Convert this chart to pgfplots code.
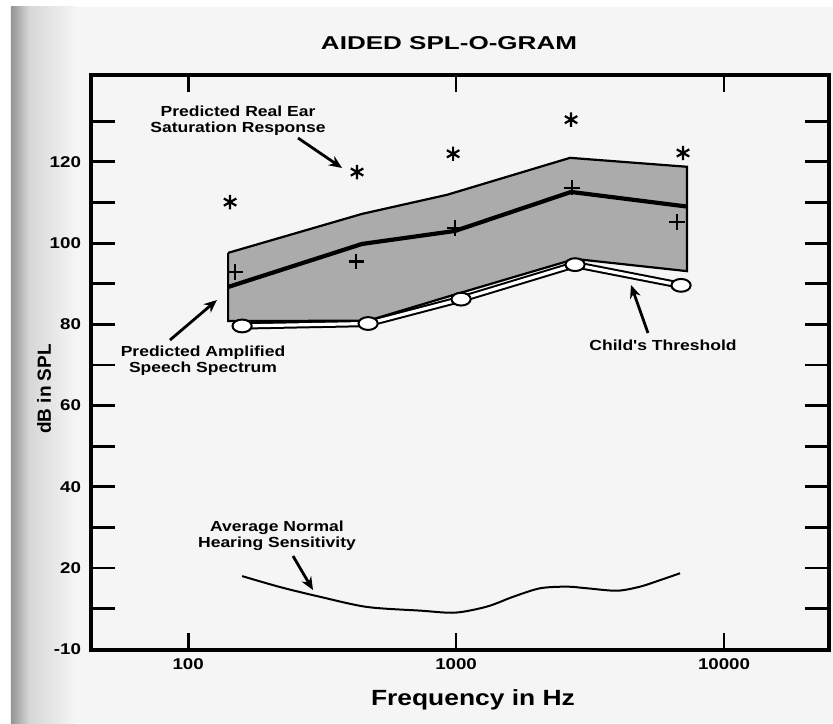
\documentclass[border=0pt]{standalone}
\usepackage{fontspec}
\setmainfont{Liberation Sans}
\newfontfamily\widefont[FakeStretch=1.2]{Liberation Sans}
\newfontfamily\titlefont[FakeStretch=1.4]{Liberation Sans}
\usepackage{pgfplots}
\pgfplotsset{compat=1.18}
\usetikzlibrary{arrows.meta}
\begin{document}
\begin{tikzpicture}
\path[use as bounding box] (-45.5pt,-36.5pt) rectangle (371pt,325pt);
\fill[white] (-45.5pt,-36.5pt) rectangle (371pt,325pt);
\fill[black!4] (-40pt,-36.5pt) rectangle (371pt,321.5pt);
\shade[left color=black!42, right color=black!16] (-40pt,-36.5pt) rectangle (-31pt,321.5pt);
\shade[left color=black!16, right color=black!4] (-31.05pt,-36.5pt) rectangle (-8pt,321.5pt);
\begin{axis}[
  at={(0pt,0pt)}, anchor=south west,
  scale only axis, width=369pt, height=287.5pt,
  xmode=log, xmin=43.4, xmax=24650, ymin=-0.2, ymax=141.4,
  axis background/.style={fill=black!4},
  axis line style={line width=2.3pt},
  tick align=inside, tick pos=both,
  xticklabel pos=lower, yticklabel pos=left,
  xminorticks=false,
  xtick={100,1000,10000}, xticklabels={100,1000,10000},
  ytick={0,10,...,130}, yticklabels={-10,,20,,40,,60,,80,,100,,120,},
  every tick/.style={black, line width=1.4pt},
  xtick style={/pgfplots/major tick length=8.5pt},
  ytick style={/pgfplots/major tick length=12pt},
  yticklabel style={font=\widefont\fontsize{7.8}{9}\selectfont\bfseries, xshift=-1.5pt},
  xticklabel style={font=\widefont\fontsize{7.8}{9}\selectfont\bfseries, yshift=-1pt},
  clip=false,
]
% predicted amplified speech spectrum (shaded band)
\addplot[fill=black!33, draw=black, line width=1.1pt] coordinates {
  (141.0,97.6) (446,107.2) (925.6,111.9) (2663,121.0) (7276,118.8)
  (7276,93.1) (2780,96.1) (1044,87.8) (469.6,80.9) (141.0,80.8) (141.0,97.6)};
% child's threshold (hollow line)
\addplot[draw=black, line width=1pt, double=white, double distance=1.6pt] coordinates {
  (159.0,79.6) (469.6,80.2) (1044,86.2) (2780,94.7) (6912,89.6)};
\addplot[only marks, mark=*, mark size=3.2pt, mark options={fill=white, draw=black, line width=1pt, xscale=1.5}] coordinates {
  (159.0,79.6) (469.6,80.2) (1044,86.2) (2780,94.7) (6912,89.6)};
% middle line of speech spectrum
\addplot[black, line width=2.1pt] coordinates {
  (141.0,89.2) (446,99.8) (991.5,103.0) (2686,112.6) (7276,109.0)};
% plus marks
\addplot[only marks, mark=+, mark size=3.8pt, mark options={black, line width=1.3pt}] coordinates {
  (149.7,92.9) (423.6,95.4) (991.5,103.7) (2709,113.6) (6678,105.2)};
% predicted real ear saturation response
\addplot[only marks, mark=asterisk, mark size=3.6pt, mark options={black, line width=1.1pt}] coordinates {
  (143.4,110.1) (427,117.5) (975,122.0) (2686,130.4) (7031,122.2)};
% average normal hearing sensitivity
\addplot[black, line width=1pt, smooth] coordinates {
  (159.0,18.0) (220.4,15.3) (310.7,12.9) (465.5,10.4) (734,9.5) (991.5,9.0)
  (1305,10.5) (1632,12.9) (2058,15.0) (2596,15.4) (3082,15.0) (3988,14.4)
  (4861,15.4) (5771,17.0) (6852,18.7)};

% annotations
\node[font=\widefont\fontsize{7.3}{8}\selectfont\bfseries, align=center] at (rel axis cs:0.1992,0.9209) {Predicted Real Ear\\Saturation Response};
\draw[-{Stealth[length=6.5pt,width=5.5pt]}, line width=1.4pt] (rel axis cs:0.2805,0.8904) -- (rel axis cs:0.3401,0.8383);
\node[font=\widefont\fontsize{7.3}{8}\selectfont\bfseries, align=center] at (rel axis cs:0.1518,0.5035) {Predicted Amplified\\Speech Spectrum};
\draw[-{Stealth[length=6.5pt,width=5.5pt]}, line width=1.4pt] (rel axis cs:0.1070,0.5391) -- (rel axis cs:0.1707,0.6087);
\node[font=\widefont\fontsize{7.3}{8}\selectfont\bfseries] at (rel axis cs:0.7751,0.5304) {Child's Threshold};
\draw[-{Stealth[length=6.5pt,width=5.5pt]}, line width=1.4pt] (rel axis cs:0.7547,0.5513) -- (rel axis cs:0.7317,0.6348);
\node[font=\widefont\fontsize{7.3}{8}\selectfont\bfseries, align=center] at (rel axis cs:0.2520,0.1991) {Average Normal\\Hearing Sensitivity};
\draw[-{Stealth[length=6.5pt,width=5.5pt]}, line width=1.4pt] (rel axis cs:0.2737,0.1635) -- (rel axis cs:0.3008,0.1043);

% title and axis labels
\node[font=\titlefont\fontsize{9.3}{10}\selectfont\bfseries] at (rel axis cs:0.4851,1.0557) {AIDED SPL-O-GRAM};
\node[font=\widefont\fontsize{11}{12}\selectfont\bfseries] at (rel axis cs:0.5176,-0.0870) {Frequency in Hz};
\node[font=\fontsize{9.5}{10}\selectfont\bfseries, rotate=90] at (rel axis cs:-0.0637,0.4539) {dB in SPL};
\end{axis}
\end{tikzpicture}
\end{document}
